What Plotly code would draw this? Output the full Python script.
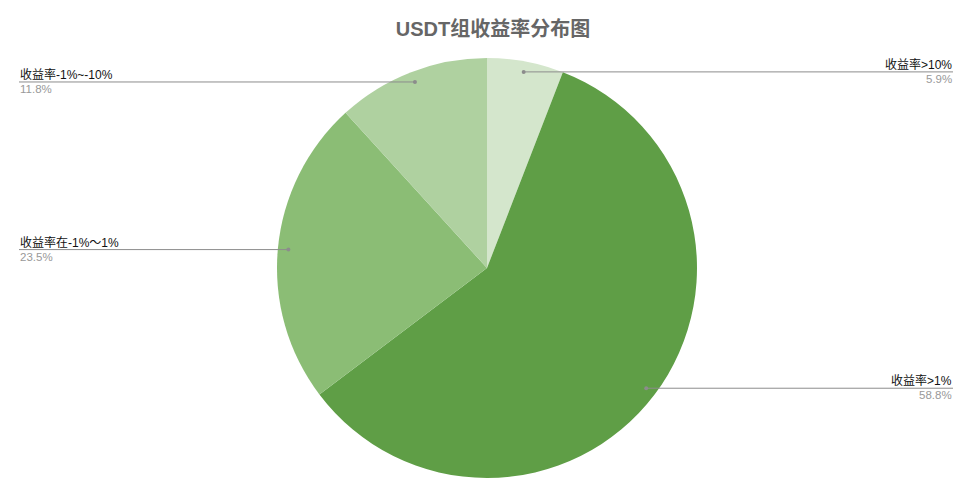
import math
import plotly.graph_objects as go

# Data
categories = ["收益率>10%", "收益率>1%", "收益率在-1%～1%", "收益率-1%~-10%"]
counts = [1, 10, 4, 2]
pct_labels = ["5.9%", "58.8%", "23.5%", "11.8%"]
colors = ["#d4e6cc", "#5f9e46", "#8bbd75", "#afd1a0"]
title_text = "USDT组收益率分布图"

OFF = 8  # page body margin
W, H = 969 - OFF, 493 - OFF
CX, CY, R = 487 - OFF, 268 - OFF, 210  # pie center / radius in figure px
FONT = "Liberation Sans, Arial, Noto Sans CJK SC, sans-serif"

fig = go.Figure(go.Pie(
    labels=categories,
    values=counts,
    sort=False,
    direction="clockwise",
    rotation=0,
    marker=dict(colors=colors, line=dict(width=0)),
    textinfo="none",
    hoverinfo="label+percent",
    showlegend=False,
    domain=dict(x=[(CX - R) / W, (CX + R) / W], y=[(H - CY - R) / H, (H - CY + R) / H]),
))

def px(x):
    return x / W

def py(y):
    return 1 - y / H

shapes, annotations = [], []
total = sum(counts)
cum = 0.0
for cat, v, p in zip(categories, counts, pct_labels):
    mid = (cum + v / 2) / total * 2 * math.pi
    cum += v
    dx = CX + 0.95 * R * math.sin(mid)
    dy = CY - 0.95 * R * math.cos(mid)
    right = math.sin(mid) > 0
    ex = (953 - OFF) if right else (19 - OFF)
    shapes.append(dict(type="line", xref="paper", yref="paper",
                       x0=px(dx), y0=py(dy), x1=px(ex), y1=py(dy),
                       line=dict(color="#8c8c8c", width=1)))
    shapes.append(dict(type="circle", xref="paper", yref="paper",
                       x0=px(dx - 2), x1=px(dx + 2), y0=py(dy - 2), y1=py(dy + 2),
                       fillcolor="#8c8c8c", line=dict(width=0)))
    anchor = "right" if right else "left"
    annotations.append(dict(xref="paper", yref="paper", x=px(ex), y=py(dy),
                            text=cat, showarrow=False, xanchor=anchor, yanchor="bottom",
                            font=dict(family=FONT, size=12, color="#111111"),
                            borderpad=0, yshift=-1))
    annotations.append(dict(xref="paper", yref="paper", x=px(ex), y=py(dy),
                            text=p, showarrow=False, xanchor=anchor, yanchor="top",
                            font=dict(family=FONT, size=11.5, color="#999999"),
                            borderpad=0, yshift=0))

fig.update_layout(
    width=W, height=H,
    margin=dict(l=0, r=0, t=0, b=0),
    paper_bgcolor="white", plot_bgcolor="white",
    title=dict(text="<b>" + title_text + "</b>", x=(493 - OFF) / W, xanchor="center",
               y=1 - (29 - OFF) / H, yanchor="middle",
               font=dict(family=FONT, size=20, color="#666666")),
    shapes=shapes,
    annotations=annotations,
)

fig.write_html("out.html")
